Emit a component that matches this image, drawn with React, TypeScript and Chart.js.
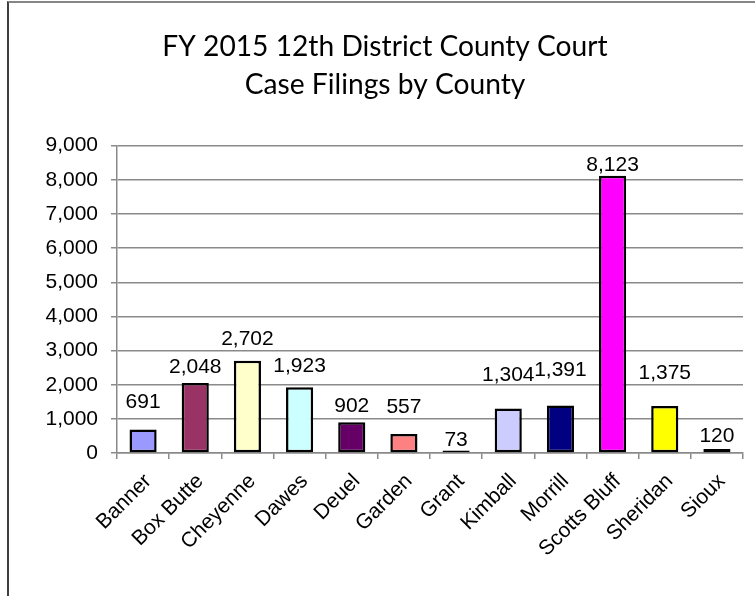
import React, { useEffect, useRef } from "react";
import { Chart, registerables } from "chart.js";

Chart.register(...registerables);

const counties = [
  "Banner", "Box Butte", "Cheyenne", "Dawes", "Deuel", "Garden",
  "Grant", "Kimball", "Morrill", "Scotts Bluff", "Sheridan", "Sioux",
];
const filings = [691, 2048, 2702, 1923, 902, 557, 73, 1304, 1391, 8123, 1375, 120];
const yTicks = [0, 1000, 2000, 3000, 4000, 5000, 6000, 7000, 8000, 9000];
const titleLines = ["FY 2015 12th District County Court", "Case Filings by County"];

// styling
const barColors = [
  "#9999FF", "#993366", "#FFFFCC", "#CCFFFF", "#660066", "#FF8080",
  "#0066CC", "#CCCCFF", "#000080", "#FF00FF", "#FFFF00", "#00FFFF",
];
const labelLift = [27, 16, 22, 21, 16, 27, 10, 33, 35, 10, 33, 13];

const fmt = (v: number) => v.toLocaleString("en-US");
const GRID = "#8a8a8a";
const TICK_FONT = { family: "'Liberation Sans', Arial, sans-serif", size: 21 };

const valueLabels = {
  id: "valueLabels",
  afterDatasetsDraw(chart: any) {
    const ctx = chart.ctx;
    const meta = chart.getDatasetMeta(0);
    ctx.save();
    ctx.font = `${TICK_FONT.size}px ${TICK_FONT.family}`;
    ctx.fillStyle = "#000";
    ctx.textAlign = "center";
    ctx.textBaseline = "middle";
    meta.data.forEach((el: any, i: number) => {
      ctx.fillText(fmt(filings[i]), el.x, el.y - labelLift[i]);
    });
    ctx.restore();
  },
};

export default function App() {
  const ref = useRef<HTMLCanvasElement | null>(null);
  useEffect(() => {
    if (!ref.current) return;
    const chart = new Chart(ref.current, {
      type: "bar",
      data: {
        labels: counties,
        datasets: [
          {
            data: filings,
            backgroundColor: barColors,
            borderColor: "#000",
            borderWidth: 2.5,
            borderSkipped: false,
            barPercentage: 0.52,
            categoryPercentage: 1,
          },
        ],
      },
      options: {
        responsive: false,
        animation: false,
        layout: { padding: { left: 18, right: 18, top: 0, bottom: 0 } },
        plugins: {
          legend: { display: false },
          tooltip: { enabled: false },
          title: {
            display: true,
            text: titleLines,
            color: "#000",
            font: { family: "Lato, 'Open Sans', sans-serif", size: 28.2, weight: "normal", lineHeight: "38px" as any },
            padding: { top: 24.5, bottom: 42.2 },
          },
        },
        scales: {
          x: {
            grid: {
              offset: true,
              drawOnChartArea: false,
              drawTicks: true,
              tickLength: 6,
              color: GRID,
              lineWidth: 1.5,
            },
            border: { display: true, color: GRID, width: 1.5 },
            ticks: {
              color: "#000",
              font: TICK_FONT,
              minRotation: 45,
              maxRotation: 45,
              autoSkip: false,
              padding: 10,
              labelOffset: 5,
            },
            afterFit: (s: any) => {
              s.height = 143;
            },
          },
          y: {
            min: 0,
            max: 9000,
            afterBuildTicks: (s: any) => {
              s.ticks = yTicks.map((v) => ({ value: v }));
            },
            grid: {
              drawTicks: true,
              tickLength: 6,
              color: GRID,
              lineWidth: 1.5,
            },
            border: { display: true, color: GRID, width: 1.5 },
            ticks: {
              color: "#000",
              font: TICK_FONT,
              padding: 13,
              callback: (v: any) => fmt(Number(v)),
            },
            afterFit: (s: any) => {
              s.width = 90;
            },
          },
        },
      },
      plugins: [valueLabels],
    });
    return () => chart.destroy();
  }, []);

  return (
    <div
      style={{
        position: "fixed",
        left: 7,
        top: 1,
        width: 760,
        height: 620,
        borderLeft: "2px solid #3f3f3f",
        borderTop: "2px solid #868686",
        boxSizing: "border-box",
        background: "#fff",
      }}
    >
      <canvas
        ref={ref}
        width={752}
        height={593}
        style={{ position: "absolute", left: 0, top: 0, width: 752, height: 593 }}
      />
    </div>
  );
}
